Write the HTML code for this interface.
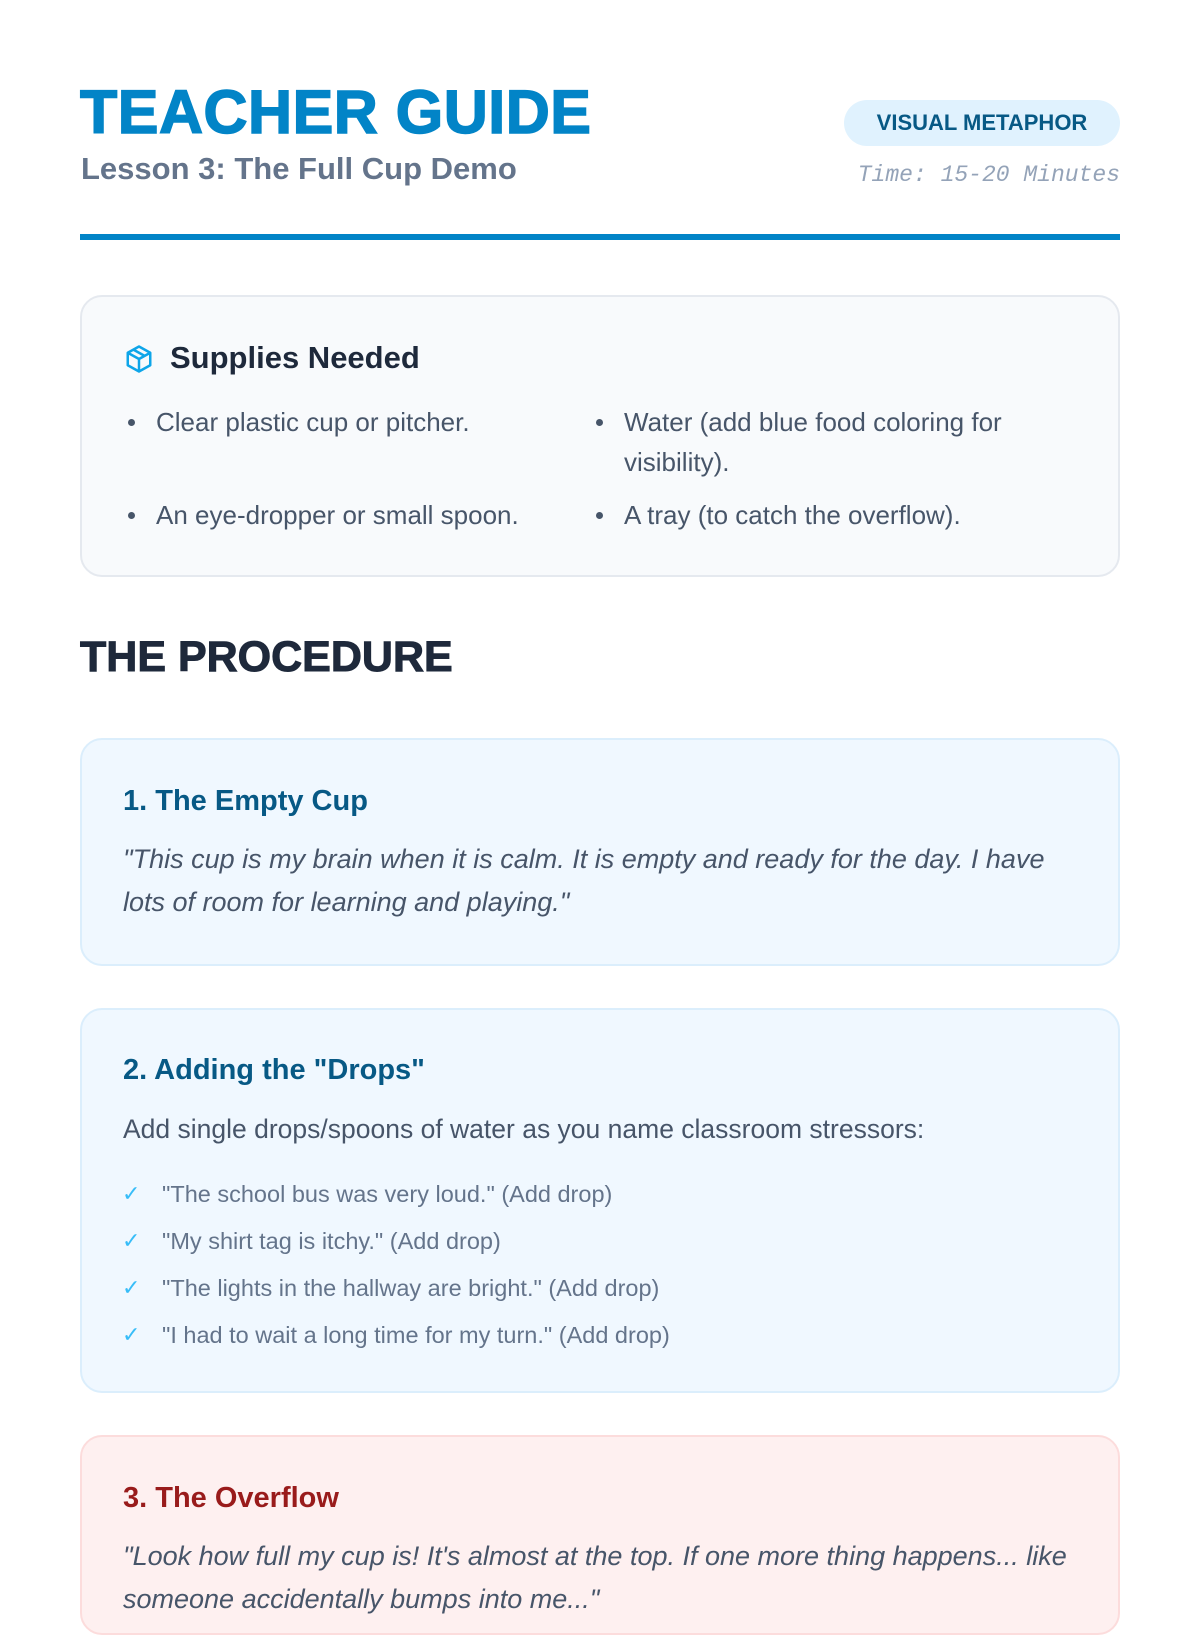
<!DOCTYPE html>
<html><head><meta charset="utf-8"><style>
*{margin:0;padding:0;box-sizing:border-box}
body{width:1200px;height:1600px;background:#fff;font-family:"Liberation Sans","DejaVu Sans",sans-serif;position:relative;overflow:hidden;color:#334155}
.abs{position:absolute}
h1{position:absolute;left:80px;top:82px;font-size:61px;font-weight:900;color:#0284c7;letter-spacing:0.5px;-webkit-text-stroke:1.5px #0284c7;line-height:1}
.sub{left:81px;top:151px;font-size:31px;color:#64748b;font-weight:bold}
.badge{left:844px;top:100px;width:276px;height:46px;border-radius:23px;background:#e0f2fe;color:#075985;font-size:22px;line-height:46px;text-align:center;font-weight:bold}
.time{right:80px;top:162px;font-family:"Liberation Mono",monospace;font-style:italic;font-size:23px;color:#94a3b8}
.rule{left:80px;top:234px;width:1040px;height:6px;background:#0284c7}
.box{left:80px;width:1040px;border-radius:22px}
.sup{top:295px;height:282px;background:#f8fafc;border:2px solid #e5e9ef}
.st{left:170px;top:340px;font-size:31px;font-weight:bold;color:#1e293b}
.li{font-size:26px;color:#475569;line-height:40px}
.li:before{content:"";position:absolute;left:-28px;top:17px;width:7px;height:7px;border-radius:50%;background:#475569}
.proc{left:80px;top:633px;font-size:43px;font-weight:900;color:#1e293b;-webkit-text-stroke:1px #1e293b}
.c1{top:738px;height:228px;background:#f0f8ff;border:2px solid #dbeefc}
.c2{top:1008px;height:385px;background:#f0f8ff;border:2px solid #dbeefc}
.c3{top:1435px;height:200px;background:#fef0f0;border:2px solid #fcdcdc}
.hd{left:123px;font-size:29px;font-weight:bold;color:#075985}
.q{left:123px;font-size:27px;font-style:italic;color:#475569;line-height:43px;width:960px}
.ck{left:162px;font-size:23.5px;color:#64748b}
.ck:before{content:"✓";position:absolute;left:-40px;color:#38bdf8;font-size:22px}
</style></head><body>
<h1>TEACHER GUIDE</h1>
<div class="abs sub">Lesson 3: The Full Cup Demo</div>
<div class="abs badge">VISUAL METAPHOR</div>
<div class="abs time">Time: 15-20 Minutes</div>
<div class="abs rule"></div>

<div class="abs box sup"></div>
<svg class="abs" style="left:124px;top:344px" width="30" height="30" viewBox="0 0 24 24" fill="none" stroke="#0ea5e9" stroke-width="2" stroke-linejoin="round"><path d="M12 2l9 5v10l-9 5-9-5V7z"/><path d="M3 7l9 5 9-5M12 12v10M7.5 4.5l9 5"/></svg>
<div class="abs st">Supplies Needed</div>
<div class="abs li" style="left:156px;top:402px">Clear plastic cup or pitcher.</div>
<div class="abs li" style="left:624px;top:402px;width:450px">Water (add blue food coloring for visibility).</div>
<div class="abs li" style="left:156px;top:495px">An eye-dropper or small spoon.</div>
<div class="abs li" style="left:624px;top:495px">A tray (to catch the overflow).</div>

<div class="abs proc">THE PROCEDURE</div>

<div class="abs box c1"></div>
<div class="abs hd" style="top:785px">1. The Empty Cup</div>
<div class="abs q" style="top:838px;width:925px">"This cup is my brain when it is calm. It is empty and ready for the day. I have lots of room for learning and playing."</div>

<div class="abs box c2"></div>
<div class="abs hd" style="top:1054px">2. Adding the "Drops"</div>
<div class="abs" style="left:123px;top:1114px;font-size:26.5px;color:#475569">Add single drops/spoons of water as you name classroom stressors:</div>
<div class="abs ck" style="top:1181px">"The school bus was very loud." (Add drop)</div>
<div class="abs ck" style="top:1228px">"My shirt tag is itchy." (Add drop)</div>
<div class="abs ck" style="top:1275px">"The lights in the hallway are bright." (Add drop)</div>
<div class="abs ck" style="top:1322px">"I had to wait a long time for my turn." (Add drop)</div>

<div class="abs box c3"></div>
<div class="abs hd" style="top:1482px;color:#991b1b">3. The Overflow</div>
<div class="abs q" style="top:1535px;width:990px">"Look how full my cup is! It's almost at the top. If one more thing happens... like someone accidentally bumps into me..."</div>
</body></html>
